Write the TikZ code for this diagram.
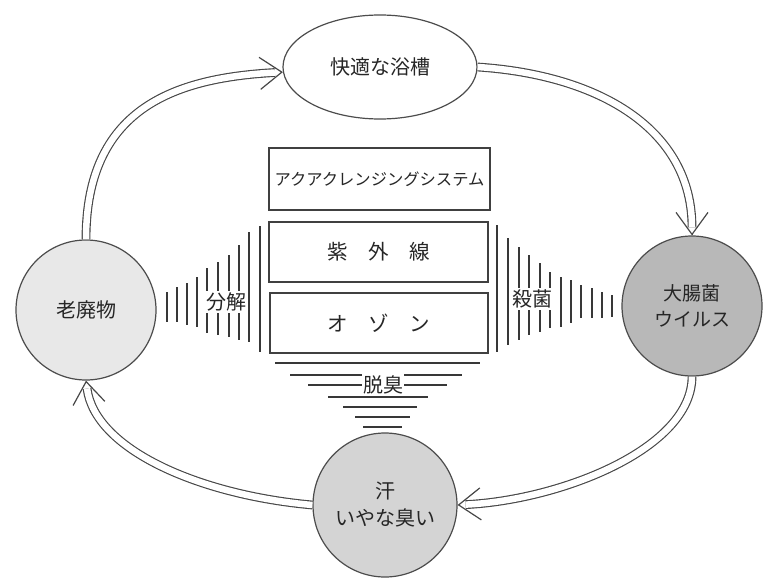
\documentclass[tikz,border=0pt]{standalone}
\usepackage{fontspec}
\newfontfamily\jp{Noto Sans CJK JP}
\usetikzlibrary{arrows.meta,calc,shapes.geometric}
\begin{document}
\begin{tikzpicture}[x=1pt,y=-1pt,
  circ/.style={circle, draw=black!70, line width=1.2pt, inner sep=0pt, align=center, text=black!85,
    font=\jp\fontsize{20}{27}\selectfont},
  sbox/.style={rectangle, draw=black!75, line width=2.2pt, inner sep=0pt, text=black!85},
  fanline/.style={draw=black!78, line width=1.6pt},
  lbl/.style={font=\jp\fontsize{20}{24}\selectfont, fill=white, inner xsep=1pt, inner ysep=2pt, text=black!85},
  dbl/.style={draw=black!72, line width=1.15pt, double=white, double distance=6.5pt, shorten >=8pt},
  arrowtip/.style={draw=black!72, -{Straight Barb[length=22pt,width=32pt,line width=1.2pt]}}
]
\useasboundingbox (0,0) rectangle (767,578);

% main nodes
\node[ellipse, draw=black!70, line width=1.2pt, minimum width=194pt, minimum height=104pt, inner sep=0pt,
  font=\jp\fontsize{20}{24}\selectfont, text=black!85] (E) at (380,67) {快適な浴槽};
\node[circ, minimum size=140pt, fill=black!9] (L) at (86,310) {老廃物};
\node[circ, minimum size=140pt, fill=black!28, font=\jp\fontsize{19}{26}\selectfont] (R) at (692,306) {大腸菌\\ウイルス};
\node[circ, minimum size=144pt, fill=black!17] (B) at (385,505) {汗\\いやな臭い};

% boxes
\node[sbox, minimum width=221pt, minimum height=62pt, font=\jp\fontsize{16.3}{20}\selectfont] (S) at (379.5,179) {アクアクレンジングシステム};
\node[sbox, minimum width=219pt, minimum height=60pt, font=\jp\fontsize{20.5}{24}\selectfont] (UV) at (378.5,252) {紫　外　線};
\node[sbox, minimum width=218pt, minimum height=60pt, font=\jp\fontsize{20.5}{24}\selectfont] (O3) at (379,323) {オ　ゾ　ン};

% left fan lines
\foreach \x/\a/\b in {167/292/322,177/287/322,187/283/325,197/277/327,207/268/333,218/262/335,229/255/337,239/245/340,249/232/342,260/226/352}
  \draw[fanline] (\x,\a) -- (\x,\b);
\node[lbl] (fk) at (226,302) {分解};

% right fan lines
\foreach \x/\a/\b in {497/225/352,508/238/345,519/247/340,529/255/335,540/263/332,550/272/328,561/277/327,571/280/323,581/285/318,592/288/318,602/292/318,612/295/317}
  \draw[fanline] (\x,\a) -- (\x,\b);
\node[lbl] (sk) at (532,299) {殺菌};

% bottom lines
\foreach \y/\a/\b in {363/275/480,375/290/462,385/308/447,397/328/428,407/343/417,417/355/410,427/363/402}
  \draw[fanline] (\a,\y) -- (\b,\y);
\node[lbl] (dc) at (383,385) {脱臭};

% cycle arrows
\coordinate (c1) at ($(E.183)+(-110,6)$);
\draw[dbl] (L.north) .. controls +(0,-130) and (c1) .. (E.183);
\draw[arrowtip] ($(E.183)!1pt!(c1)$) -- (E.183);

\coordinate (c2) at ($(R.north)+(0,-106)$);
\draw[dbl] (E.east) .. controls +(122,8) and (c2) .. (R.north);
\draw[arrowtip] ($(R.north)!1pt!(c2)$) -- (R.north);

\coordinate (c3) at ($(B.east)+(103,-5)$);
\draw[dbl] (R.south) .. controls +(0,72) and (c3) .. (B.east);
\draw[arrowtip] ($(B.east)!1pt!(c3)$) -- (B.east);

\coordinate (c4) at ($(L.south)+(9,69)$);
\draw[dbl] (B.west) .. controls +(-113,-10) and (c4) .. (L.south);
\draw[arrowtip] ($(L.south)!1pt!(c4)$) -- (L.south);
\end{tikzpicture}
\end{document}
